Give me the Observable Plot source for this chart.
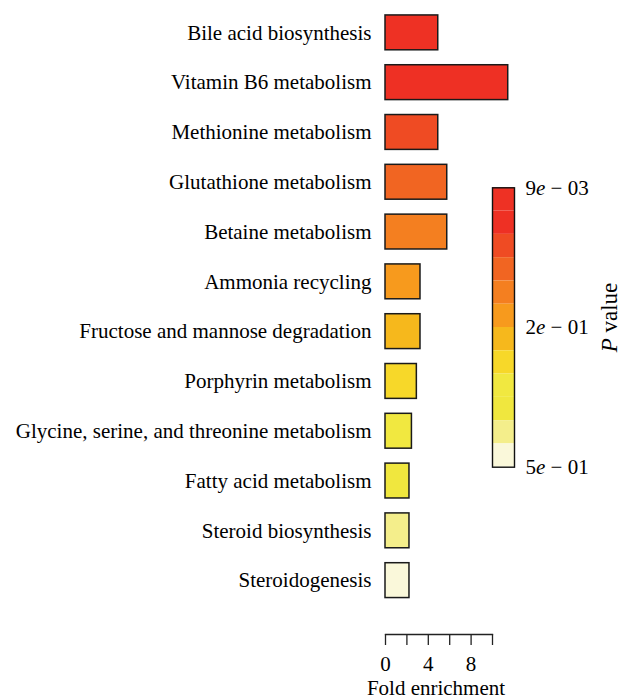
<!DOCTYPE html>
<html>
<head>
<meta charset="utf-8">
<script src="https://cdn.jsdelivr.net/npm/d3@7"></script>
<script src="https://cdn.jsdelivr.net/npm/@observablehq/plot@0.6"></script>
<style>
  html, body { margin: 0; padding: 0; background: #fff; }
  #wrap { position: relative; width: 621px; height: 699px; overflow: hidden; font-family: "Liberation Serif", "DejaVu Serif", serif; }
  #wrap svg { position: absolute; }
</style>
</head>
<body>
<div id="wrap"></div>
<script>
const pathways = [
  "Bile acid biosynthesis",
  "Vitamin B6 metabolism",
  "Methionine metabolism",
  "Glutathione metabolism",
  "Betaine metabolism",
  "Ammonia recycling",
  "Fructose and mannose degradation",
  "Porphyrin metabolism",
  "Glycine, serine, and threonine metabolism",
  "Fatty acid metabolism",
  "Steroid biosynthesis",
  "Steroidogenesis"
];
const foldEnrichment = [4.93, 11.47, 4.93, 5.77, 5.77, 3.27, 3.27, 2.93, 2.47, 2.24, 2.24, 2.24];
const palette = ["#EE3124", "#EE3024", "#EF4B23", "#F16522", "#F47F20", "#F79A1D",
                 "#F6B81C", "#F7D829", "#F1E840", "#F0E73E", "#F4EE8B", "#FAF8DA"];
const xTicks = [0, 2, 4, 6, 8, 10];
const xTickLabels = [0, 4, 8];
const legendLabels = ["9e − 03", "2e − 01", "5e − 01"];
const legendLabelPos = [0, 6, 12];

const data = pathways.map((name, i) => ({name, fe: foldEnrichment[i], idx: i}));
const font = "Liberation Serif, DejaVu Serif, serif";
const fs = 21;

const main = Plot.plot({
  width: 621,
  height: 699,
  marginTop: 0,
  marginLeft: 385,
  marginRight: 129,
  marginBottom: 65,
  style: {fontFamily: font, fontSize: fs + "px", color: "black", background: "transparent"},
  x: {domain: [0, 10], axis: null, label: null},
  y: {domain: pathways, range: [0, 612.5], padding: 0.3, round: false, axis: null, label: null},
  color: {type: "ordinal", domain: pathways, range: palette},
  marks: [
    Plot.barX(data, {x: "fe", y: "name", fill: "name", stroke: "#1a1a1a", strokeWidth: 1.5}),
    Plot.axisY({tickSize: 0, tickPadding: 14, fontSize: fs, fill: "black", label: null}),
    Plot.frame({anchor: "bottom", stroke: "#222", strokeWidth: 1.3}),
    Plot.axisX({ticks: xTicks, tickSize: 11, tickFormat: () => "", stroke: "#222", strokeWidth: 1.3, label: null}),
    Plot.axisX({ticks: xTickLabels, tickSize: 0, tickPadding: 22, fontSize: fs, fill: "black", label: null}),
    Plot.text(["Fold enrichment"], {frameAnchor: "bottom", dx: -3, dy: 46, fontSize: fs, fill: "black", lineAnchor: "top"})
  ]
});
main.style.left = "0px";
main.style.top = "0px";

const legendData = palette.map((c, i) => ({c, i}));
const legend = Plot.plot({
  width: 141,
  height: 320,
  marginLeft: 12,
  marginRight: 107,
  marginTop: 17.3,
  marginBottom: 23.3,
  style: {fontFamily: font, fontSize: fs + "px", color: "black", background: "transparent", overflow: "visible"},
  x: {domain: [0, 1], axis: null},
  y: {domain: [0, 12], reverse: true, axis: null},
  marks: [
    Plot.rect(legendData, {x1: 0, x2: 1, y1: "i", y2: d => d.i + 1, fill: "c"}),
    Plot.frame({stroke: "#111", strokeWidth: 1.4}),
    Plot.text(legendLabels, {x: 1, y: (d, i) => legendLabelPos[i], dx: 11, textAnchor: "start", fontSize: fs, fill: "black"}),
    Plot.text(["P value"], {frameAnchor: "right", textAnchor: "middle", dx: 95, dy: -10, rotate: -90, fontSize: 23, fill: "black"})
  ]
});
legend.style.left = "480px";
legend.style.top = "170px";

const wrap = document.getElementById("wrap");
wrap.appendChild(main);
wrap.appendChild(legend);

// italicize the "e" in legend labels and the "P" in the title
const ns = "http://www.w3.org/2000/svg";
legend.querySelectorAll("text").forEach(t => {
  const s = t.textContent;
  if (/^\de − /.test(s)) {
    t.textContent = "";
    const a = document.createElementNS(ns, "tspan"); a.textContent = s[0];
    const b = document.createElementNS(ns, "tspan"); b.textContent = "e"; b.setAttribute("font-style", "italic");
    const c = document.createElementNS(ns, "tspan"); c.textContent = s.slice(2);
    t.append(a, b, c);
  } else if (s === "P value") {
    t.textContent = "";
    const a = document.createElementNS(ns, "tspan"); a.textContent = "P"; a.setAttribute("font-style", "italic");
    const b = document.createElementNS(ns, "tspan"); b.textContent = " value";
    t.append(a, b);
  }
});
</script>
</body>
</html>
